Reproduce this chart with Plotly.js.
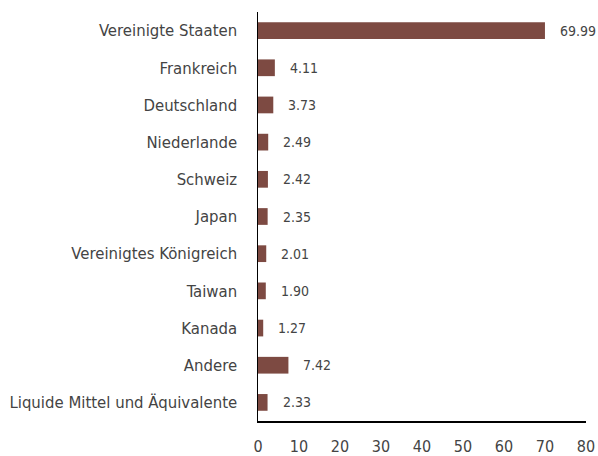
<!DOCTYPE html>
<html>
<head>
<meta charset="utf-8">
<script src="https://cdn.plot.ly/plotly-3.0.1.min.js"></script>
<style>html,body{margin:0;padding:0;background:#fff;}#chart{width:598px;height:456px;}</style>
</head>
<body>
<div id="chart"></div>
<script>
const categories = ["Vereinigte Staaten","Frankreich","Deutschland","Niederlande","Schweiz","Japan","Vereinigtes Königreich","Taiwan","Kanada","Andere","Liquide Mittel und Äquivalente"];
const values = [69.99,4.11,3.73,2.49,2.42,2.35,2.01,1.90,1.27,7.42,2.33];
const valueLabels = values.map(v => v.toFixed(2));
const xTicks = [0,10,20,30,40,50,60,70,80];

const FONT = "'DejaVu Sans Condensed','Liberation Sans Narrow',sans-serif";

const trace = {
  type: 'bar',
  orientation: 'h',
  y: categories,
  x: values,
  width: 0.45,
  marker: {color: '#7d4a42'},
  hoverinfo: 'none'
};

const annotations = values.map((v, i) => ({
  x: v, y: categories[i], xref: 'x', yref: 'y',
  text: valueLabels[i], showarrow: false,
  xanchor: 'left', xshift: 13,
  font: {family: FONT, size: 14, color: '#444'}
}));

const layout = {
  width: 598, height: 456,
  margin: {l: 258, r: 12, t: 12, b: 35},
  paper_bgcolor: '#fff', plot_bgcolor: '#fff',
  showlegend: false,
  font: {family: FONT, color: '#444'},
  xaxis: {
    range: [0, 80], tickvals: xTicks, ticktext: xTicks.map(String),
    showgrid: false, zeroline: false,
    showline: true, linecolor: '#000', linewidth: 1.5,
    ticks: 'outside', ticklen: 10, tickcolor: 'rgba(0,0,0,0)',
    tickfont: {family: FONT, size: 16, color: '#444'},
    fixedrange: true
  },
  yaxis: {
    autorange: 'reversed', type: 'category',
    showgrid: false, zeroline: false,
    showline: true, linecolor: '#000', linewidth: 1.5,
    ticks: 'outside', ticklen: 16, tickcolor: 'rgba(0,0,0,0)',
    tickfont: {family: FONT, size: 16.6, color: '#444'},
    fixedrange: true
  },
  annotations: annotations
};

Plotly.newPlot('chart', [trace], layout, {displayModeBar: false, staticPlot: true});
</script>
</body>
</html>
